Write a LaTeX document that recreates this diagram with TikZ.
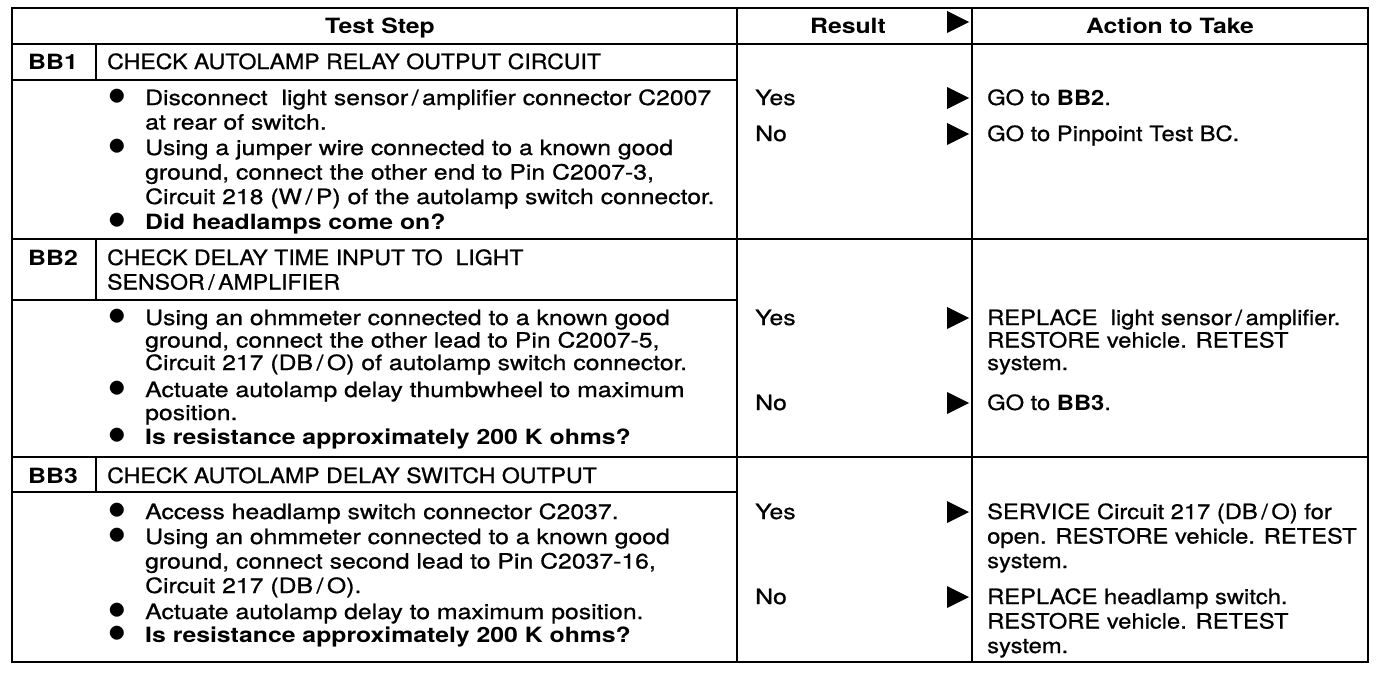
\documentclass[tikz,border=0pt]{standalone}
\usepackage{fontspec}
\setmainfont{TeX Gyre Heros}[FakeStretch=1.18, UprightFeatures={FakeBold=0.8}]
\newfontfamily\capfont{TeX Gyre Heros}[FakeStretch=1.1, UprightFeatures={FakeBold=0.8}]
\newfontfamily\actfont{TeX Gyre Heros}[FakeStretch=1.13, UprightFeatures={FakeBold=0.8}]
\newfontfamily\dotfont{TeX Gyre Heros}
\begin{document}
\begin{tikzpicture}[x=1pt,y=-1pt,
    grid/.style={line width=1.6pt},
    txt/.style={anchor=base west, inner sep=0pt, align=left, font=\fontsize{21}{24.5}\selectfont},
    captxt/.style={txt, font=\fontsize{21}{24.5}\selectfont\capfont},
    acttxt/.style={txt, font=\fontsize{21}{24.5}\selectfont\actfont},
    hd/.style={anchor=base, inner sep=0pt, font=\fontsize{21}{24.5}\selectfont\bfseries},
    dot/.style={anchor=base, inner sep=0pt, font=\fontsize{56}{56}\selectfont\dotfont},
    resarrow/.pic={\fill (-22,-11) -- (0,0) -- (-22,11) -- cycle;}]
    \useasboundingbox (0,0) rectangle (1376,672);

    % frame and rules
    \draw[line width=2pt] (12,8) rectangle (1368,662);
    \draw[grid] (12,44) -- (1368,44);
    \draw[grid] (737,8) -- (737,662);
    \draw[grid] (972,8) -- (972,662);
    \draw[grid] (12,239) -- (1368,239);
    \draw[grid] (12,457) -- (1368,457);
    \draw[grid] (12,80) -- (737,80);
    \draw[grid] (12,300) -- (737,300);
    \draw[grid] (12,492) -- (737,492);
    \draw[grid] (96,44) -- (96,80);
    \draw[grid] (96,239) -- (96,300);
    \draw[grid] (96,457) -- (96,492);

    % header
    \node[hd] (hstep) at (380,33) {Test Step};
    \node[hd] (hres) at (848,33) {Result};
    \node[hd] (hact) at (1170,33) {Action to Take};
    \pic (ahead) at (969,22) {resarrow};

    % BB1 (multi-line texts sit on the baseline of their last line)
    \node[hd] (bb1) at (53,69) {BB1};
    \node[captxt] (bb1t) at (107,69) {CHECK AUTOLAMP RELAY OUTPUT CIRCUIT};
    \node[dot] (d11) at (117,115.5) {\textbullet};
    \node[txt] (i11) at (145,129.5) {Disconnect\ \ light sensor\,/\,amplifier connector C2007\\at rear of switch.};
    \node[dot] (d12) at (117,165.5) {\textbullet};
    \node[txt] (i12) at (145,204) {Using a jumper wire connected to a known good\\ground, connect the other end to Pin C2007-3,\\Circuit 218 (W\,/\,P) of the autolamp switch connector.};
    \node[dot] (d13) at (117,239.5) {\textbullet};
    \node[txt] (i13) at (145,229) {\textbf{Did headlamps come on?}};
    \node[txt] (y1) at (755,105) {Yes};
    \node[txt] (n1) at (755,141) {No};
    \pic (ay1) at (969,98) {resarrow};
    \pic (an1) at (969,134) {resarrow};
    \node[acttxt] (act1y) at (987,105) {GO to \textbf{BB2}.};
    \node[acttxt] (act1n) at (987,141) {GO to Pinpoint Test BC.};

    % BB2
    \node[hd] (bb2) at (53,265) {BB2};
    \node[captxt] (bb2t) at (107,289.5) {CHECK DELAY TIME INPUT TO\ \ LIGHT\\SENSOR\,/\,AMPLIFIER};
    \node[dot] (d21) at (117,335.5) {\textbullet};
    \node[txt, font=\fontsize{21}{22.5}\selectfont] (i21) at (145,370) {Using an ohmmeter connected to a known good\\ground, connect the other lead to Pin C2007-5,\\Circuit 217 (DB\,/\,O) of autolamp switch connector.};
    \node[dot] (d22) at (117,407.5) {\textbullet};
    \node[txt, font=\fontsize{21}{23}\selectfont] (i22) at (145,420) {Actuate autolamp delay thumbwheel to maximum\\position.};
    \node[dot] (d23) at (117,454.5) {\textbullet};
    \node[txt] (i23) at (145,444) {\textbf{Is resistance approximately 200 K ohms?}};
    \node[txt] (y2) at (755,325) {Yes};
    \node[txt] (n2) at (755,410) {No};
    \pic (ay2) at (969,318) {resarrow};
    \pic (an2) at (969,403) {resarrow};
    \node[acttxt, font=\fontsize{21}{22.5}\selectfont\actfont] (act2y) at (987,370) {REPLACE\ \ light sensor\,/\,amplifier.\\RESTORE vehicle. RETEST\\system.};
    \node[acttxt] (act2n) at (987,410) {GO to \textbf{BB3}.};

    % BB3
    \node[hd] (bb3) at (53,483) {BB3};
    \node[captxt] (bb3t) at (107,483) {CHECK AUTOLAMP DELAY SWITCH OUTPUT};
    \node[dot] (d31) at (117,529.5) {\textbullet};
    \node[txt] (i31) at (145,519) {Access headlamp switch connector C2037.};
    \node[dot] (d32) at (117,554.5) {\textbullet};
    \node[txt] (i32) at (145,593) {Using an ohmmeter connected to a known good\\ground, connect second lead to Pin C2037-16,\\Circuit 217 (DB\,/\,O).};
    \node[dot] (d33) at (117,629.5) {\textbullet};
    \node[txt] (i33) at (145,619) {Actuate autolamp delay to maximum position.};
    \node[dot] (d34) at (117,652.5) {\textbullet};
    \node[txt] (i34) at (145,642) {\textbf{Is resistance approximately 200 K ohms?}};
    \node[txt] (y3) at (755,519) {Yes};
    \node[txt] (n3) at (755,604) {No};
    \pic (ay3) at (969,512) {resarrow};
    \pic (an3) at (969,597) {resarrow};
    \node[acttxt] (act3y) at (987,568) {SERVICE Circuit 217 (DB\,/\,O) for\\open. RESTORE vehicle. RETEST\\system.};
    \node[acttxt] (act3n) at (987,653) {REPLACE headlamp switch.\\RESTORE vehicle. RETEST\\system.};
\end{tikzpicture}
\end{document}
